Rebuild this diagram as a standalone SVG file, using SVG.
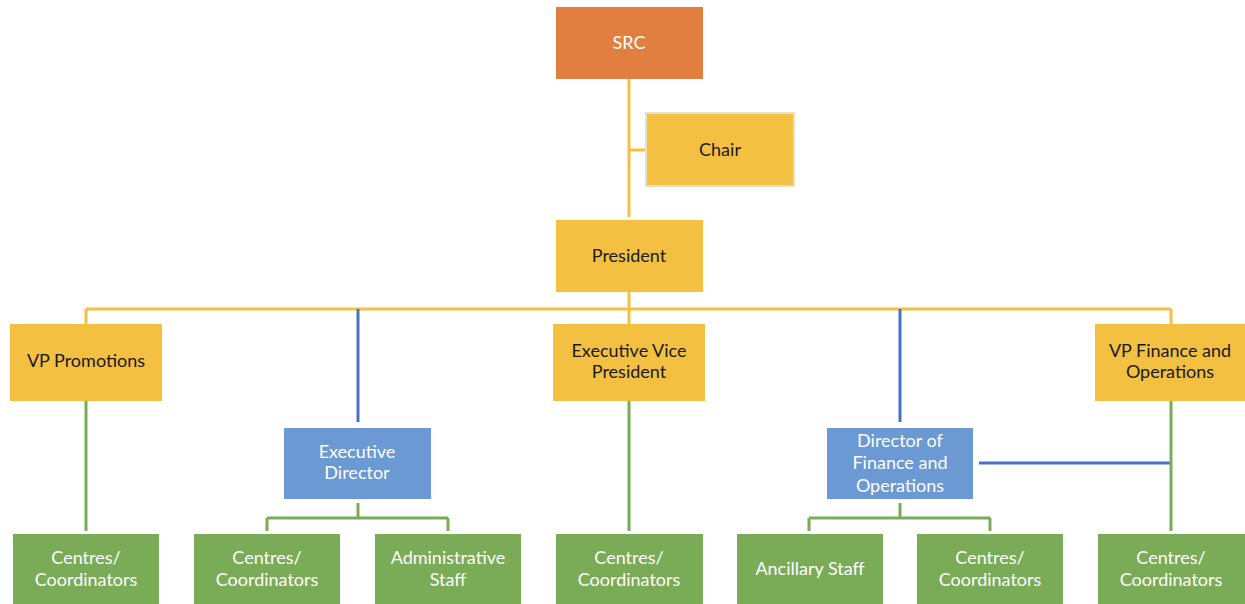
<svg xmlns="http://www.w3.org/2000/svg" width="1245" height="604" viewBox="0 0 1245 604">
<style>
.t{font-family:Lato,"Liberation Sans",sans-serif;font-size:18px;text-anchor:middle}
.dk{fill:#1a1a1a}
.wh{fill:#ffffff}
.or{fill:#E07F40}
.ye{fill:#F4C042}
.bl{fill:#6A99D4}
.gr{fill:#7AAB56}
.ly{stroke:#F4C042;stroke-width:3;fill:none}
.lb{stroke:#4A72C4;stroke-width:3;fill:none}
.lg{stroke:#7AAB56;stroke-width:3;fill:none}
</style>
<rect width="1245" height="604" fill="#ffffff"/>
<g id="connectors">
<path class="ly" d="M629 79V217M629 150H646M629 292V309M86 309H1171M86 309V324M629 309V324M1171 309V324"/>
<path class="lb" d="M358 309V422M900 309V422M979 463H1171"/>
<path class="lg" d="M86 401V531M629 401V531M1171 401V531M358 503V518M267 518H448M267 518V531M448 518V531M900 503V518M809 518H990M809 518V531M990 518V531"/>
</g>
<g id="src"><rect class="or" x="556" y="7" width="147" height="72"/><text class="t wh" x="629" y="49">SRC</text></g>
<g id="chair"><rect class="ye" x="646" y="113" width="148" height="73" stroke="#EADFC8" stroke-width="2"/><text class="t dk" x="720" y="156">Chair</text></g>
<g id="president"><rect class="ye" x="556" y="220" width="147" height="72"/><text class="t dk" x="629" y="262">President</text></g>
<g id="vp-promotions"><rect class="ye" x="10" y="324" width="152" height="77"/><text class="t dk" x="86" y="367">VP Promotions</text></g>
<g id="evp"><rect class="ye" x="553" y="324" width="152" height="77"/><text class="t dk" x="629" y="357">Executive Vice</text><text class="t dk" x="629" y="378">President</text></g>
<g id="vp-finance"><rect class="ye" x="1095" y="324" width="155" height="77"/><text class="t dk" x="1170" y="357">VP Finance and</text><text class="t dk" x="1170" y="378">Operations</text></g>
<g id="exec-director"><rect class="bl" x="284" y="428" width="147" height="71"/><text class="t wh" x="357" y="458">Executive</text><text class="t wh" x="357" y="479">Director</text></g>
<g id="director-fo"><rect class="bl" x="827" y="428" width="146" height="71"/><text class="t wh" x="900" y="447">Director of</text><text class="t wh" x="900" y="469">Finance and</text><text class="t wh" x="900" y="492">Operations</text></g>
<g id="centres-1"><rect class="gr" x="13" y="534" width="146" height="76"/><text class="t wh" x="86" y="564">Centres/</text><text class="t wh" x="86" y="586">Coordinators</text></g>
<g id="centres-2"><rect class="gr" x="194" y="534" width="146" height="76"/><text class="t wh" x="267" y="564">Centres/</text><text class="t wh" x="267" y="586">Coordinators</text></g>
<g id="admin-staff"><rect class="gr" x="375" y="534" width="146" height="76"/><text class="t wh" x="448" y="564">Administrative</text><text class="t wh" x="448" y="586">Staff</text></g>
<g id="centres-3"><rect class="gr" x="556" y="534" width="147" height="76"/><text class="t wh" x="629" y="564">Centres/</text><text class="t wh" x="629" y="586">Coordinators</text></g>
<g id="ancillary"><rect class="gr" x="737" y="534" width="146" height="76"/><text class="t wh" x="810" y="575">Ancillary Staff</text></g>
<g id="centres-5"><rect class="gr" x="917" y="534" width="146" height="76"/><text class="t wh" x="990" y="564">Centres/</text><text class="t wh" x="990" y="586">Coordinators</text></g>
<g id="centres-6"><rect class="gr" x="1098" y="534" width="150" height="76"/><text class="t wh" x="1171" y="564">Centres/</text><text class="t wh" x="1171" y="586">Coordinators</text></g>
</svg>
